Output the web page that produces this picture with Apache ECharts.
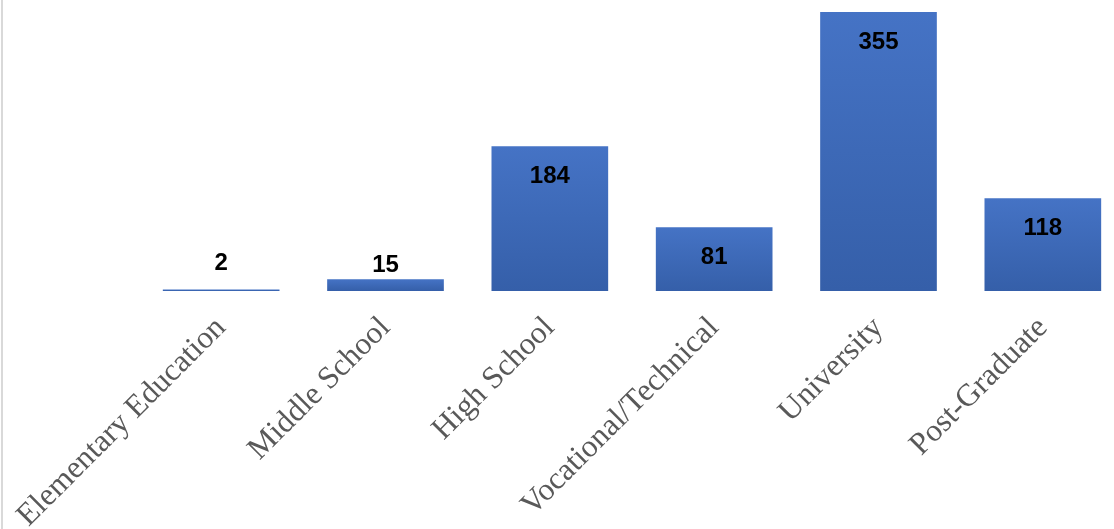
<!DOCTYPE html>
<html>
<head>
<meta charset="utf-8">
<script src="https://cdn.jsdelivr.net/npm/echarts@6/dist/echarts.min.js"></script>
<style>
  body { margin: 0; background: #fff; overflow: hidden; }
  #main { width: 1125px; height: 529px; }
  #edge { position: absolute; left: 1px; top: 0; width: 2px; height: 529px; background: #d9d9d9; }
</style>
</head>
<body>
<div id="main"></div>
<div id="edge"></div>
<script>
// 教育程度分类
var categories = ['Elementary Education', 'Middle School', 'High School', 'Vocational/Technical', 'University', 'Post-Graduate'];
// 人数
var counts = [2, 15, 184, 81, 355, 118];

var dom = document.getElementById('main');
var myChart = echarts.init(dom);

var data = [];
for (var i = 0; i < counts.length; i++) {
	var item = { value: counts[i] };
	if (counts[i] < 40) { // 柱子太矮，标签放上面
		item.label = { position: 'top', distance: counts[i] < 5 ? 14 : 2 };
	}
	data.push(item);
}

var option = {
	animation: false,
	grid: { left: 139, right: 0, top: 8, bottom: 238, containLabel: false, outerBoundsMode: 'none' },
	xAxis: {
		type: 'category',
		data: categories,
		axisLine: { show: false },
		axisTick: { show: false },
		axisLabel: {
			interval: 0,
			rotate: 45,
			margin: 32,
			fontFamily: 'Liberation Serif',
			fontSize: 31.5,
			color: '#595959'
		}
	},
	yAxis: {
		type: 'value',
		min: 0,
		max: 360,
		show: false
	},
	series: [{
		type: 'bar',
		barWidth: '71%',
		data: data,
		itemStyle: {
			color: new echarts.graphic.LinearGradient(0, 0, 0, 1, [
				{ offset: 0, color: '#4573c5' },
				{ offset: 1, color: '#355fa9' }
			])
		},
		label: {
			show: true,
			position: 'insideTop',
			distance: 18,
			fontFamily: 'Liberation Sans',
			fontWeight: 'bold',
			fontSize: 24,
			color: '#000'
		}
	}]
};
myChart.setOption(option);
</script>
</body>
</html>
